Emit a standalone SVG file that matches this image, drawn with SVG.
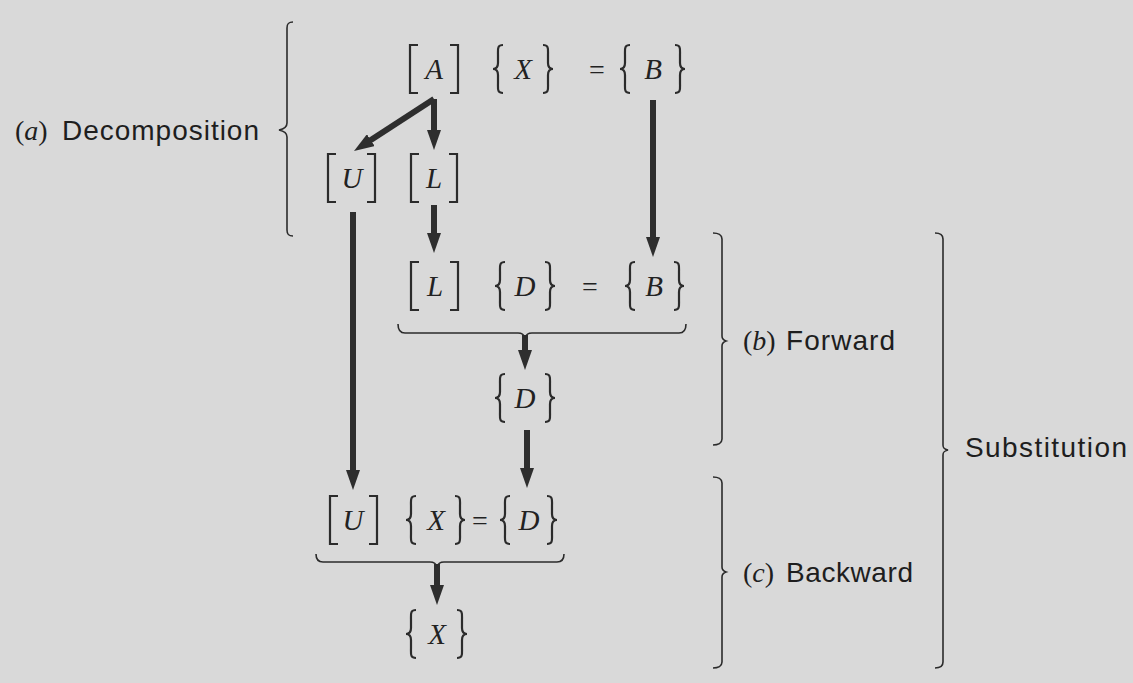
<svg xmlns="http://www.w3.org/2000/svg" width="1133" height="683" viewBox="0 0 1133 683">
<style>
.bg{fill:#d9d9d9}
.m{font-family:"Liberation Serif",serif;font-style:italic;font-size:29px;fill:#222;text-anchor:middle}
.eq{font-family:"Liberation Serif",serif;font-size:28px;fill:#222;text-anchor:middle}
.br{fill:none;stroke:#2b2b2b;stroke-width:2.2}
.bb{fill:none;stroke:#2b2b2b;stroke-width:1.6}
.lab{font-family:"Liberation Sans",sans-serif;font-size:28px;fill:#1e1e1e}
.par{font-family:"Liberation Serif",serif;font-size:28px;fill:#1e1e1e}
.arr{stroke:#2e2e2e;stroke-width:6;fill:none;marker-end:url(#ah)}
</style>
<defs>
<marker id="ah" viewBox="0 0 20 14" markerWidth="20" markerHeight="14" markerUnits="userSpaceOnUse" refX="4" refY="7" orient="auto">
<path d="M0,0 L20,7 L0,14 z" fill="#2e2e2e"/>
</marker>
<path id="sl" class="br" d="M8,-24 H0 V24 H8"/>
<path id="sr" class="br" d="M-8,-24 H0 V24 H-8"/>
<path id="cl" class="br" d="M10,-24 C4,-24 5,-20 5,-14 L5,-6 C5,-2 3,0 0,0 C3,0 5,2 5,6 L5,14 C5,20 4,24 10,24"/>
<path id="cr" class="br" d="M-10,-24 C-4,-24 -5,-20 -5,-14 L-5,-6 C-5,-2 -3,0 0,0 C-3,0 -5,2 -5,6 L-5,14 C-5,20 -4,24 -10,24"/>
</defs>
<rect class="bg" x="0" y="0" width="1133" height="683"/>

<g id="connectors">
<line class="arr" x1="434" y1="99" x2="367.4" y2="142.3"/>
<line class="arr" x1="434" y1="99" x2="434" y2="134"/>
<line class="arr" x1="653" y1="100" x2="653" y2="241"/>
<line class="arr" x1="434" y1="205" x2="434" y2="237"/>
<line class="arr" x1="525" y1="335" x2="525" y2="354"/>
<line class="arr" x1="527" y1="430" x2="527" y2="472"/>
<line class="arr" x1="353" y1="212" x2="353" y2="474"/>
<line class="arr" x1="437" y1="564" x2="437" y2="589"/>
</g>

<g id="row1">
<g id="n-A"><use href="#sl" x="410" y="69"/><use href="#sr" x="458" y="69"/><text class="m" x="434" y="79">A</text></g>
<g id="n-X1"><use href="#cl" x="493" y="69"/><use href="#cr" x="553" y="69"/><text class="m" x="523" y="79">X</text></g>
<text class="eq" x="597" y="79">=</text>
<g id="n-B1"><use href="#cl" x="620" y="69"/><use href="#cr" x="685" y="69"/><text class="m" x="653" y="79">B</text></g>
</g>

<g id="row2">
<g id="n-U1"><use href="#sl" x="328" y="178"/><use href="#sr" x="375" y="178"/><text class="m" x="352" y="188">U</text></g>
<g id="n-L1"><use href="#sl" x="411" y="178"/><use href="#sr" x="457" y="178"/><text class="m" x="434" y="188">L</text></g>
</g>

<g id="row3">
<g id="n-L2"><use href="#sl" x="411" y="286"/><use href="#sr" x="458" y="286"/><text class="m" x="435" y="296">L</text></g>
<g id="n-D1"><use href="#cl" x="495" y="286"/><use href="#cr" x="555" y="286"/><text class="m" x="525" y="296">D</text></g>
<text class="eq" x="590" y="296">=</text>
<g id="n-B2"><use href="#cl" x="625" y="286"/><use href="#cr" x="684" y="286"/><text class="m" x="654" y="296">B</text></g>
<path id="ub1" class="bb" d="M398,324 C398,330 400,333 405,333 L518,333 C522,333 524,334 525,338 C526,334 528,333 532,333 L679,333 C684,333 686,330 686,324"/>
</g>

<g id="n-D2"><use href="#cl" x="495" y="398"/><use href="#cr" x="555" y="398"/><text class="m" x="525" y="408">D</text></g>

<g id="row5">
<g id="n-U2"><use href="#sl" x="330" y="520"/><use href="#sr" x="377" y="520"/><text class="m" x="353" y="530">U</text></g>
<g id="n-X2"><use href="#cl" x="406" y="520"/><use href="#cr" x="465" y="520"/><text class="m" x="436" y="530">X</text></g>
<text class="eq" x="480" y="530">=</text>
<g id="n-D3"><use href="#cl" x="500" y="520"/><use href="#cr" x="557" y="520"/><text class="m" x="529" y="530">D</text></g>
<path id="ub2" class="bb" d="M316,554 C316,559 318,562 323,562 L430,562 C434,562 436,563 437,567 C438,563 440,562 444,562 L557,562 C562,562 564,559 564,554"/>
</g>

<g id="n-X3"><use href="#cl" x="406" y="634"/><use href="#cr" x="467" y="634"/><text class="m" x="437" y="644">X</text></g>

<g id="label-a">
<path class="bb" d="M293,22 C288,22 287,24 287,28 L287,123 C287,127 284,129 279,130 C284,131 287,133 287,137 L287,230 C287,234 288,236 293,236"/>
<text class="par" x="15" y="140">(<tspan font-style="italic">a</tspan>)</text>
<text class="lab" x="62" y="140" textLength="197" lengthAdjust="spacing">Decomposition</text>
</g>

<g id="label-b">
<path class="bb" d="M713,233 C718,233 722,235 722,239 L722,336 C722,339 723,340 726,341 C723,342 722,343 722,346 L722,439 C722,443 718,445 713,445"/>
<text class="par" x="743" y="350">(<tspan font-style="italic">b</tspan>)</text>
<text class="lab" x="786" y="350" textLength="109" lengthAdjust="spacing">Forward</text>
</g>

<g id="label-c">
<path class="bb" d="M713,477 C718,477 722,479 722,483 L722,567 C722,570 723,571 726,572 C723,573 722,574 722,577 L722,662 C722,666 718,668 713,668"/>
<text class="par" x="743" y="582">(<tspan font-style="italic">c</tspan>)</text>
<text class="lab" x="786" y="582" textLength="127" lengthAdjust="spacing">Backward</text>
</g>

<g id="label-sub">
<path class="bb" d="M935,233 C940,233 943,235 943,239 L943,445 C943,448 944,449 948,450 C944,451 943,452 943,455 L943,662 C943,666 940,668 935,668"/>
<text class="lab" x="965" y="457" textLength="162" lengthAdjust="spacing">Substitution</text>
</g>
</svg>
